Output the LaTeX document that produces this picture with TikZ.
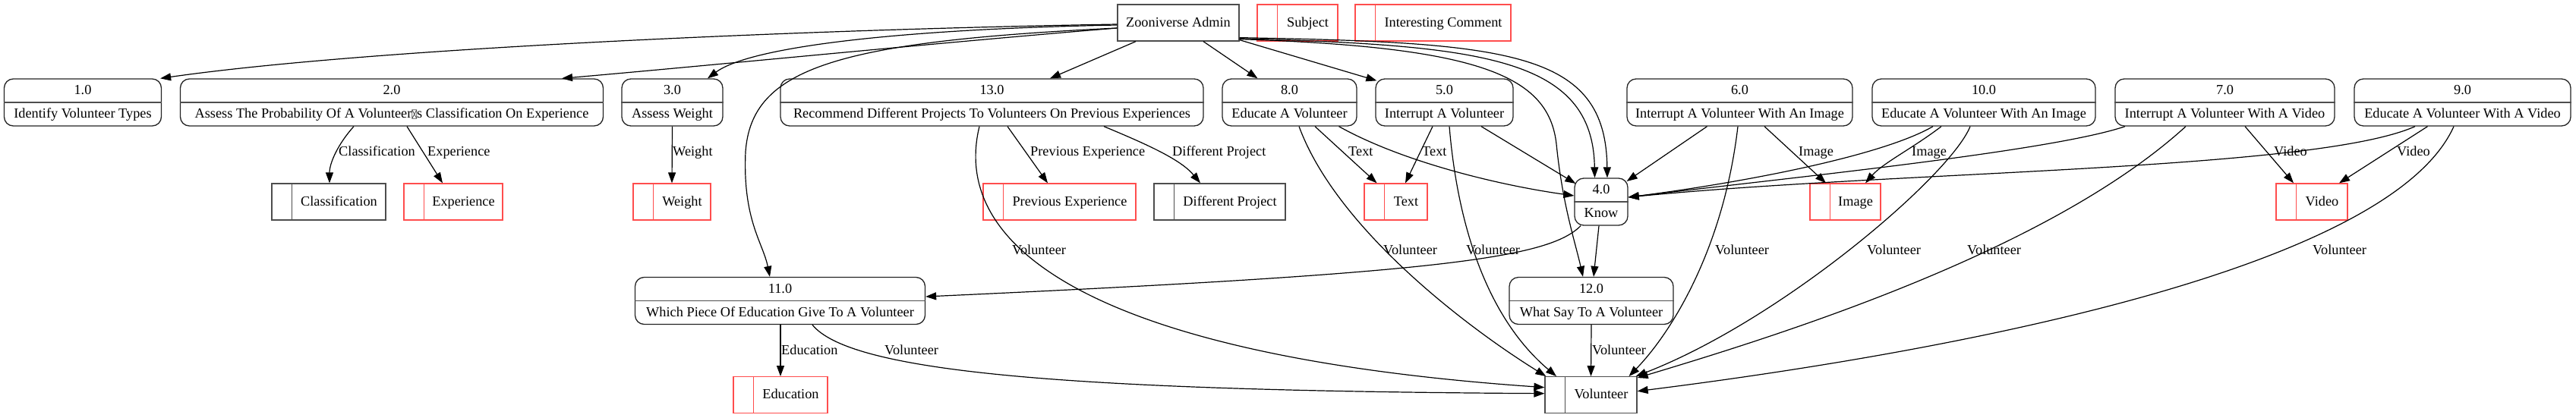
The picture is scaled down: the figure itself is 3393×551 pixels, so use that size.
\documentclass[tikz,border=0pt]{standalone}
\usepackage{fontspec}
\setmainfont{Liberation Serif}
\usetikzlibrary{arrows.meta}

\definecolor{storered}{RGB}{255,77,77}
\definecolor{boxgray}{RGB}{77,77,77}
\definecolor{procgray}{RGB}{35,35,35}

\newcommand{\missglyph}{\tikz[baseline=0pt]\draw[boxgray,line width=0.8pt] (0.5pt,-0.5pt) rectangle (6.5pt,11pt) (0.5pt,-0.5pt) -- (6.5pt,11pt) (0.5pt,11pt) -- (6.5pt,-0.5pt);}

\begin{document}
\begin{tikzpicture}[x=1pt,y=-1pt,
	font=\fontsize{18.3}{22}\selectfont,
	proc/.style={draw=procgray,line width=1.3pt,rounded corners=12pt,minimum height=62pt,inner sep=0pt},
	store/.style={draw=boxgray,line width=1.3pt,minimum height=48pt,inner sep=0pt},
	redstore/.style={store,draw=storered},
	txt/.style={inner sep=0pt,text height=12pt,text depth=1.5pt},
	elbl/.style={txt,anchor=west},
	flow/.style={-{Triangle[length=14pt,width=10pt]},line width=1.2pt}]
\useasboundingbox (0,0) rectangle (3393,551);

% processes
\foreach \nm/\cx/\cy/\w/\num/\name in {
	p1/109/135/207/1.0/Identify Volunteer Types,
	p2/516/135/557/2.0/{Assess The Probability Of A Volunteer\missglyph s Classification On Experience},
	p3/885.5/135/133/3.0/Assess Weight,
	p13/1306.5/135/557/13.0/Recommend Different Projects To Volunteers On Previous Experiences,
	p8/1698.5/135/177/8.0/Educate A Volunteer,
	p5/1902.5/135/181/5.0/Interrupt A Volunteer,
	p6/2291.5/135/297/6.0/Interrupt A Volunteer With An Image,
	p10/2613/135/294/10.0/Educate A Volunteer With An Image,
	p7/2930.5/135/289/7.0/Interrupt A Volunteer With A Video,
	p9/3243.5/135/285/9.0/Educate A Volunteer With A Video,
	p4/2109/266/70/4.0/Know,
	p11/1027.5/396.5/382/11.0/Which Piece Of Education Give To A Volunteer,
	p12/2096/396.5/216/12.0/What Say To A Volunteer}{
	\node[proc,minimum width=\w pt] (\nm) at (\cx,\cy) {};
	\draw[boxgray,line width=1.3pt] (\nm.west) -- (\nm.east);
	\node[txt] (\nm-num) at ([yshift=15.5pt]\nm.center) {\num};
	\node[txt] (\nm-name) at ([yshift=-15.5pt]\nm.center) {\name};
}

% data stores
\foreach \nm/\cx/\cy/\w/\kind/\name in {
	sClass/433/266/150/store/Classification,
	sExp/597/266/130/redstore/Experience,
	sWeight/885/266/102/redstore/Weight,
	sPrev/1395.5/266/201/redstore/Previous Experience,
	sDiff/1606.5/266/173/store/Different Project,
	sText/1838.5/266/83/redstore/Text,
	sImage/2430.5/266/93/redstore/Image,
	sVideo/3045/266/94/redstore/Video,
	sEdu/1028/520.7/124/redstore/Education,
	sVol/2095.5/520.7/121/store/Volunteer,
	sSubj/1709/30/106/redstore/Subject,
	sComment/1887.5/30/205/redstore/Interesting Comment}{
	\node[\kind,minimum width=\w pt] (\nm) at (\cx,\cy) {};
	\draw[\kind] ([xshift=27pt]\nm.north west) -- ([xshift=27pt]\nm.south west);
	\node[txt] (\nm-name) at ([xshift=13.5pt]\nm.center) {\name};
}

% external entity
\node[store,txt,minimum width=160pt,minimum height=48pt] (admin) at (1552,30) {Zooniverse Admin};

% flows from the admin
\draw[flow] ([yshift=-2pt]admin.west) .. controls (1100,38) and (500,62) .. ([xshift=-2pt]p1.north east);
\draw[flow] ([yshift=-7pt]admin.west) .. controls (1250,55) and (950,85) .. ([xshift=224pt]p2.north);
\draw[flow] ([yshift=-3pt]admin.west) .. controls (1200,38) and (990,60) .. ([xshift=46.5pt]p3.north);
\draw[flow] ([yshift=-7pt]admin.west) .. controls (1100,55) and (990,90) .. (982,200) .. controls (978,290) and (1005,320) .. ([xshift=-13.5pt]p11.north);
\draw[flow] ([xshift=-56pt]admin.south) -- ([xshift=76.5pt]p13.north);
\draw[flow] ([xshift=33pt]admin.south) -- ([xshift=-42pt]p8.north);
\draw[flow] ([yshift=2pt]admin.south east) -- ([xshift=2pt,yshift=-3pt]p5.north west);
\draw[flow] ([yshift=4pt]admin.south east) .. controls (1950,60) and (2098,75) .. ([xshift=-8.5pt]p4.north);
\draw[flow] ([yshift=5pt]admin.south east) .. controls (1990,56) and (2115,68) .. ([xshift=8pt]p4.north);
\draw[flow] ([yshift=3pt]admin.south east) .. controls (1950,62) and (2040,100) .. (2050,190) .. controls (2058,270) and (2075,320) .. ([xshift=-11pt]p12.north);

% flows to the stores
\draw[flow] ([xshift=-50pt]p2.south) .. controls (445,190) and (434,215) .. ([xshift=1pt]sClass.north);
\draw[flow] ([xshift=20pt]p2.south) -- ([xshift=-14pt]sExp.north);
\draw[flow] (p3.south) -- (sWeight.north);
\draw[flow] ([xshift=20.5pt]p13.south) -- ([xshift=-15.5pt]sPrev.north);
\draw[flow] ([xshift=147.5pt]p13.south) .. controls (1510,190) and (1555,210) .. ([xshift=-25.5pt]sDiff.north);
\draw[flow] ([xshift=33.5pt]p8.south) -- ([xshift=-25pt]sText.north);
\draw[flow] ([xshift=-15.5pt]p5.south) -- ([xshift=12.5pt]sText.north);
\draw[flow] ([xshift=32.5pt]p6.south) -- ([xshift=-25.5pt]sImage.north);
\draw[flow] ([xshift=-56pt]p10.south) .. controls (2520,195) and (2480,215) .. ([xshift=26.5pt]sImage.north);
\draw[flow] ([xshift=26.5pt]p7.south) -- ([xshift=-24pt]sVideo.north);
\draw[flow] ([xshift=-46pt]p9.south) -- ([xshift=36pt]sVideo.north);
\draw[flow] ([xshift=0.5pt]p11.south) -- (sEdu.north);

% flows into know
\draw[flow] ([xshift=65pt]p8.south) .. controls (1850,215) and (1980,245) .. ([yshift=8pt]p4.west);
\draw[flow] ([xshift=48.5pt]p5.south) -- ([xshift=2pt,yshift=24pt]p4.west);
\draw[flow] ([xshift=-43pt]p6.south) -- ([xshift=-2pt,yshift=27pt]p4.east);
\draw[flow] ([xshift=-67pt]p10.south) .. controls (2480,205) and (2300,240) .. ([yshift=6pt]p4.east);
\draw[flow] ([xshift=-131.5pt]p7.south) .. controls (2700,200) and (2350,235) .. ([yshift=6pt]p4.east);
\draw[flow] ([xshift=-62.5pt]p9.south) .. controls (3050,225) and (2500,225) .. ([yshift=6pt]p4.east);
\draw[flow] ([xshift=-27pt]p4.south) .. controls (2040,340) and (1900,360) .. ([yshift=5.5pt]p11.east);
\draw[flow] ([xshift=-3pt]p4.south) -- ([xshift=3pt]p12.north);

% flows to the volunteer
\draw[flow] ([xshift=-16.5pt]p13.south) .. controls (1250,330) and (1450,470) .. ([yshift=10pt]sVol.west);
\draw[flow] ([xshift=12.5pt]p8.south) .. controls (1760,300) and (1930,430) .. ([xshift=2pt]sVol.north west);
\draw[flow] ([xshift=6.5pt]p5.south) .. controls (1920,300) and (1960,420) .. ([xshift=-45.5pt]sVol.north);
\draw[flow] ([xshift=-2.5pt]p6.south) .. controls (2270,330) and (2200,440) .. ([xshift=50pt]sVol.north);
\draw[flow] ([xshift=-18pt]p10.south) .. controls (2570,230) and (2350,420) .. ([xshift=-2pt]sVol.north east);
\draw[flow] ([xshift=-51.5pt]p7.south) .. controls (2700,330) and (2350,440) .. ([yshift=-2pt]sVol.north east);
\draw[flow] ([xshift=-11.5pt]p9.south) .. controls (3150,350) and (2600,460) .. ([yshift=5pt]sVol.east);
\draw[flow] ([xshift=42.5pt]p11.south) .. controls (1120,490) and (1400,515) .. ([yshift=2pt]sVol.west);
\draw[flow] (p12.south) -- (sVol.north);

% flow labels
\foreach \x/\y/\t [count=\i] in {
	446/200.5/Classification, 563/200.5/Experience, 886/200.5/Weight,
	1357/200.5/Previous Experience, 1544/200.5/Different Project,
	1776/200.5/Text, 1873/200.5/Text, 2369/200.5/Image, 2518/200.5/Image,
	2995/200.5/Video, 3157/200.5/Video,
	1333/330.5/Volunteer, 1822/330.5/Volunteer, 1931/330.5/Volunteer,
	2259/330.5/Volunteer, 2459/330.5/Volunteer, 2591/330.5/Volunteer,
	3046/330.5/Volunteer,
	1029/462.5/Education, 1165/462.5/Volunteer, 2097/462.5/Volunteer}{
	\node[elbl] (lbl\i) at (\x,\y) {\t};
}
\end{tikzpicture}
\end{document}
